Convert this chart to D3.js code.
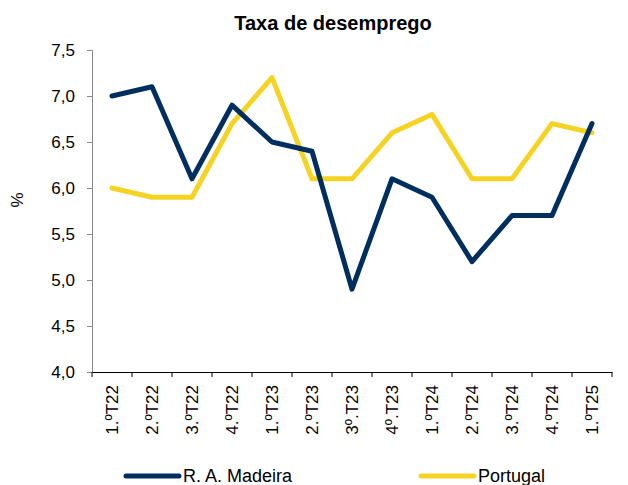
<!DOCTYPE html>
<html>
<head>
<meta charset="utf-8">
<script src="https://cdn.jsdelivr.net/npm/d3@7"></script>
<style>
  body { margin: 0; background: #fff; }
  text { font-family: "Liberation Sans", Arial, sans-serif; fill: #000; }
</style>
</head>
<body>
<svg id="chart"></svg>
<script>
const quarters = ["1.ºT22", "2.ºT22", "3.ºT22", "4.ºT22", "1.ºT23", "2.ºT23", "3º.T23", "4º.T23", "1.ºT24", "2.ºT24", "3.ºT24", "4.ºT24", "1.ºT25"];
const madeira = [7.0, 7.1, 6.1, 6.9, 6.5, 6.4, 4.9, 6.1, 5.9, 5.2, 5.7, 5.7, 6.7];
const portugal = [6.0, 5.9, 5.9, 6.7, 7.2, 6.1, 6.1, 6.6, 6.8, 6.1, 6.1, 6.7, 6.6];
const yTicks = [4.0, 4.5, 5.0, 5.5, 6.0, 6.5, 7.0, 7.5];

const width = 628;
const height = 485;
const margin = { top: 50, right: 16, bottom: 113, left: 92 };

const svg = d3.select("#chart")
  .attr("width", width)
  .attr("height", height);

const x = d3.scaleBand()
  .domain(quarters)
  .range([margin.left, width - margin.right]);

const y = d3.scaleLinear()
  .domain([4, 7.5])
  .range([height - margin.bottom, margin.top]);

svg.append("text")
  .attr("x", 333)
  .attr("y", 30)
  .attr("text-anchor", "middle")
  .attr("font-size", 20)
  .attr("font-weight", "bold")
  .text("Taxa de desemprego");

svg.append("text")
  .attr("transform", "translate(23,200) rotate(-90)")
  .attr("text-anchor", "middle")
  .attr("font-size", 17)
  .text("%");

const yAxis = svg.append("g")
  .attr("transform", `translate(${margin.left},0)`)
  .call(d3.axisLeft(y).tickValues(yTicks).tickFormat(d => d3.format(".1f")(d).replace(".", ",")).tickSize(5).tickPadding(12));
yAxis.selectAll("text").attr("font-size", 17).style("font-family", "Liberation Sans, Arial, sans-serif");

const xAxis = svg.append("g")
  .attr("transform", `translate(0,${height - margin.bottom})`)
  .call(d3.axisBottom(x).tickSizeOuter(0).tickSize(0));
xAxis.selectAll(".tick text")
  .attr("font-size", 17)
  .style("font-family", "Liberation Sans, Arial, sans-serif")
  .attr("transform", "rotate(-90)")
  .attr("text-anchor", "end")
  .attr("x", -13)
  .attr("y", 0)
  .attr("dy", "0.35em");

// tick marks on band boundaries
xAxis.selectAll(".boundary")
  .data(quarters.concat(["end"]))
  .enter()
  .append("line")
  .attr("x1", (d, i) => margin.left + i * x.step())
  .attr("x2", (d, i) => margin.left + i * x.step())
  .attr("y1", 0)
  .attr("y2", 5)
  .attr("stroke", "#000");

svg.selectAll(".domain").attr("stroke", "#000");
yAxis.select(".domain").attr("stroke", "#888");
yAxis.selectAll(".tick line").attr("stroke", "#888");

const line = d3.line()
  .x((d, i) => x(quarters[i]) + x.bandwidth() / 2)
  .y(d => y(d));

svg.append("path")
  .datum(portugal)
  .attr("fill", "none")
  .attr("stroke", "#f5d322")
  .attr("stroke-width", 5)
  .attr("stroke-linejoin", "round")
  .attr("stroke-linecap", "round")
  .attr("d", line);

svg.append("path")
  .datum(madeira)
  .attr("fill", "none")
  .attr("stroke", "#002f5f")
  .attr("stroke-width", 5)
  .attr("stroke-linejoin", "round")
  .attr("stroke-linecap", "round")
  .attr("d", line);

const legend = [
  { name: "R. A. Madeira", color: "#002f5f", x: 126 },
  { name: "Portugal", color: "#f5d322", x: 421 }
];

const lg = svg.selectAll(".legend")
  .data(legend)
  .enter()
  .append("g")
  .attr("transform", d => `translate(${d.x},476)`);

lg.append("line")
  .attr("x1", 0)
  .attr("x2", 53)
  .attr("stroke", d => d.color)
  .attr("stroke-width", 5)
  .attr("stroke-linecap", "round");

lg.append("text")
  .attr("x", 57)
  .attr("dy", "0.35em")
  .attr("font-size", 18)
  .text(d => d.name);
</script>
</body>
</html>
